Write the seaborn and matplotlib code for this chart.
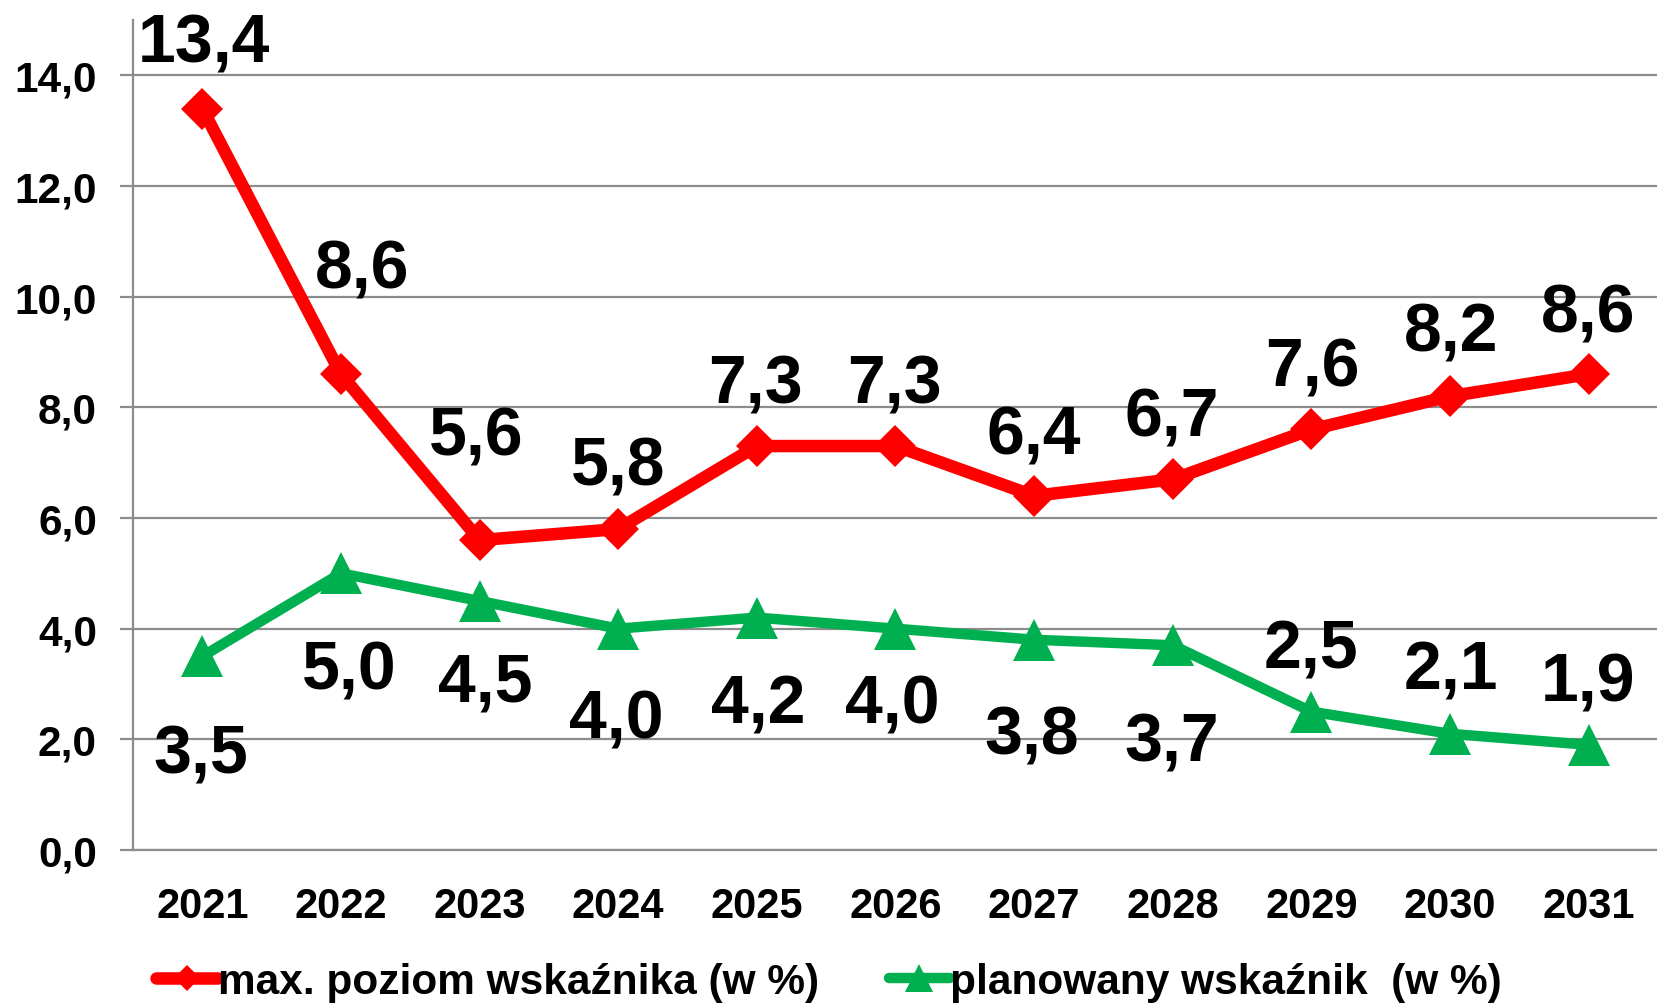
import matplotlib
matplotlib.use("Agg")
import matplotlib.pyplot as plt
import seaborn as sns
import pandas as pd
import numpy as np

# ---- data ----
years = ["2021", "2022", "2023", "2024", "2025", "2026", "2027", "2028", "2029", "2030", "2031"]
max_level = [13.4, 8.6, 5.6, 5.8, 7.3, 7.3, 6.4, 6.7, 7.6, 8.2, 8.6]
planned = [3.5, 5.0, 4.5, 4.0, 4.2, 4.0, 3.8, 3.7, 2.5, 2.1, 1.9]
y_ticks = [0, 2, 4, 6, 8, 10, 12, 14]
series_names = ["max. poziom wskaźnika (w %)", "planowany wskaźnik  (w %)"]

# label offsets (pixels, label centre relative to point)
red_offsets = [(2, 71), (21, 111), (-3, 110), (0, 69), (-1, 68), (-1, 68),
               (0, 67), (-1, 68), (1, 68), (1, 70), (-1, 67)]
green_offsets = [(-2, -92), (8, -91), (6, -75), (-2, -84), (1, -81), (-3, -69),
                 (-2, -89), (-1, -91), (0, 69), (1, 70), (-1, 69)]

sns.set_style("white")
plt.rcParams['font.family'] = ['Liberation Sans', 'DejaVu Sans']
plt.rcParams['font.weight'] = 'bold'
plt.rcParams['text.color'] = 'black'

RED = "#FF0000"
GREEN = "#00B050"
GRAY = "#8C8C8C"
PX = 72 / 100  # points per pixel at dpi 100

fig = plt.figure(figsize=(16.58, 10.04), dpi=100)
ax = fig.add_axes([0.0802, 0.1524, 0.9198, 0.8267])

x = np.arange(len(years))
df = pd.DataFrame({"x": x, "max": max_level, "plan": planned})

sns.lineplot(data=df, x="x", y="max", ax=ax, color=RED, linewidth=9,
             marker="D", markersize=21, markeredgewidth=0,
             label=series_names[0], zorder=4)
sns.lineplot(data=df, x="x", y="plan", ax=ax, color=GREEN, linewidth=7.5,
             marker="^", markersize=30, markeredgewidth=0,
             label=series_names[1], zorder=4)

handles, labels = ax.get_legend_handles_labels()
if ax.get_legend() is not None:
    ax.get_legend().remove()

LABEL_FS = 49
half_cap = LABEL_FS / PX * 0.716 / 2


def fmt(v):
    return f"{v:.1f}".replace(".", ",")


for xi, v, (dx, dy) in zip(x, max_level, red_offsets):
    ax.annotate(fmt(v), (xi, v), xytext=(dx, dy - half_cap), textcoords="offset pixels",
                ha="center", va="baseline", fontsize=LABEL_FS, fontweight="bold",
                color="black", annotation_clip=False, zorder=6)
for xi, v, (dx, dy) in zip(x, planned, green_offsets):
    ax.annotate(fmt(v), (xi, v), xytext=(dx, dy - half_cap), textcoords="offset pixels",
                ha="center", va="baseline", fontsize=LABEL_FS, fontweight="bold",
                color="black", annotation_clip=False, zorder=6)

ax.set_xlim(-0.5, len(years) - 0.5)
ax.set_ylim(0, 15)
ax.set_xticks(x)
ax.set_xticklabels(years, fontsize=30, fontweight="bold", color="black")
ax.set_xticks(np.arange(-0.5, len(years) - 0.5, 1), minor=True)
ax.set_yticks(y_ticks)
ax.set_yticklabels([fmt(t) for t in y_ticks], fontsize=30.5, fontweight="bold", color="black")
ax.tick_params(axis="x", which="major", length=0, pad=26)
ax.tick_params(axis="x", which="minor", length=14 * PX, width=1.6, color=GRAY, direction="out")
ax.tick_params(axis="y", length=13 * PX, width=1.6, color=GRAY, direction="out",
               pad=23 * PX, left=True)
ax.set_xlabel("")
ax.set_ylabel("")

ax.yaxis.grid(True, color=GRAY, linewidth=1.6)
ax.xaxis.grid(False)
ax.set_axisbelow(True)
for s in ["top", "right"]:
    ax.spines[s].set_visible(False)
for s in ["left", "bottom"]:
    ax.spines[s].set_color(GRAY)
    ax.spines[s].set_linewidth(1.6)

fig.legend(handles, labels, loc="center", bbox_to_anchor=(0.5, 0.021), ncol=2,
           frameon=False, prop={"size": 30.5, "weight": "bold"}, handlelength=1.45,
           handletextpad=0.0, columnspacing=1.65, markerscale=0.65, labelcolor="black")

fig.savefig("out.png", dpi=100)
